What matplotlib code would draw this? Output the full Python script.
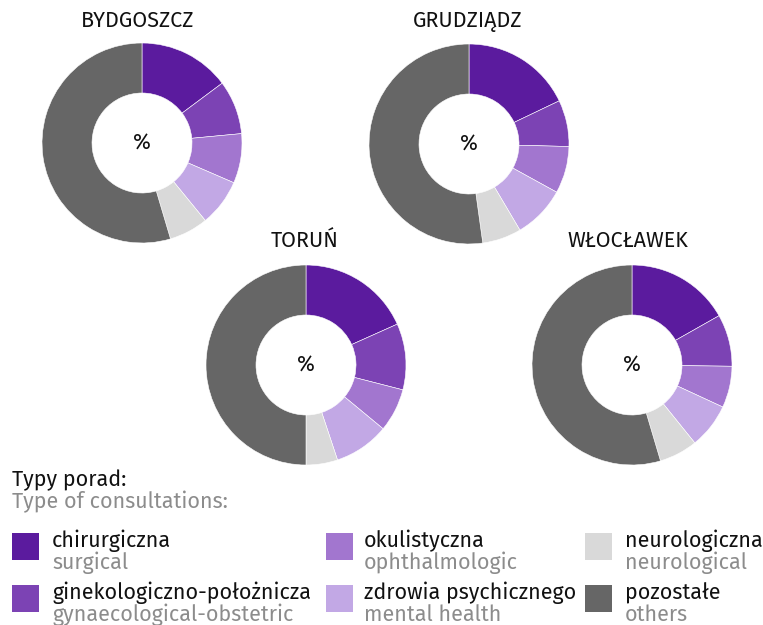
import matplotlib
matplotlib.use("Agg")
import matplotlib.pyplot as plt
from matplotlib.patches import Rectangle

plt.rcParams['font.family'] = ['Fira Sans', 'DejaVu Sans']
plt.rcParams['font.weight'] = 'normal'

W, H = 763, 625

cities = ["BYDGOSZCZ", "GRUDZIĄDZ", "TORUŃ", "WŁOCŁAWEK"]
categories_pl = ["chirurgiczna", "ginekologiczno-położnicza", "okulistyczna",
                 "zdrowia psychicznego", "neurologiczna", "pozostałe"]
categories_en = ["surgical", "gynaecological-obstetric", "ophthalmologic",
                 "mental health", "neurological", "others"]
colors = ["#5b1b9e", "#7c43b4", "#a276cf", "#c2a8e5", "#d9d9d9", "#666666"]

bydgoszcz = [14.8, 8.7, 8.0, 7.6, 6.3, 54.6]
grudziadz = [17.9, 7.5, 7.6, 8.5, 6.3, 52.2]
torun = [18.3, 10.7, 7.0, 8.9, 5.1, 50.0]
wloclawek = [16.8, 8.4, 6.7, 7.3, 6.2, 54.6]
values = [bydgoszcz, grudziadz, torun, wloclawek]

# layout (pixels)
centers = [(142, 143), (469, 144), (306, 365), (632, 365)]
title_pos = [(138, 21), (468, 21), (305, 241), (628, 241)]
R = 100

fig = plt.figure(figsize=(W / 100, H / 100), dpi=100)

def fx(x):
    return x / W

def fy(y):
    return 1 - y / H

FS = 15.5

for city, vals, (cx, cy), (tx, ty) in zip(cities, values, centers, title_pos):
    ax = fig.add_axes([fx(cx - R), fy(cy + R), 2 * R / W, 2 * R / H])
    ax.pie(vals, colors=colors, startangle=90, counterclock=False, radius=1,
           wedgeprops=dict(width=0.5, edgecolor="white", linewidth=0.4))
    ax.set_xlim(-1, 1)
    ax.set_ylim(-1, 1)
    ax.set_aspect("equal")
    ax.axis("off")
    ax.text(0, 0, "%", ha="center", va="center", fontsize=FS, color="#111111")
    fig.text(fx(tx), fy(ty), city, ha="center", va="center", fontsize=FS, color="#111111")

# legend
fig.text(fx(12), fy(480), "Typy porad:", ha="left", va="center", fontsize=FS, color="#111111")
fig.text(fx(12), fy(502), "Type of consultations:", ha="left", va="center", fontsize=FS, color="#8c8c8c")

col_x = [12, 326, 585]
text_x = [52, 364, 625]
row_y = [533, 585]
order = [(0, 0), (0, 1), (1, 0), (1, 1), (2, 0), (2, 1)]
for i, (c, r) in enumerate(order):
    sx = col_x[c]
    sy = row_y[r]
    fig.patches.append(Rectangle((fx(sx), fy(sy + 27)), 27 / W, 27 / H,
                                 transform=fig.transFigure, facecolor=colors[i],
                                 edgecolor="none"))
    fig.text(fx(text_x[c]), fy(sy + 8), categories_pl[i], ha="left", va="center",
             fontsize=FS, color="#111111")
    fig.text(fx(text_x[c]), fy(sy + 30), categories_en[i], ha="left", va="center",
             fontsize=FS, color="#8c8c8c")

fig.savefig("out.png", dpi=100, facecolor="white")
